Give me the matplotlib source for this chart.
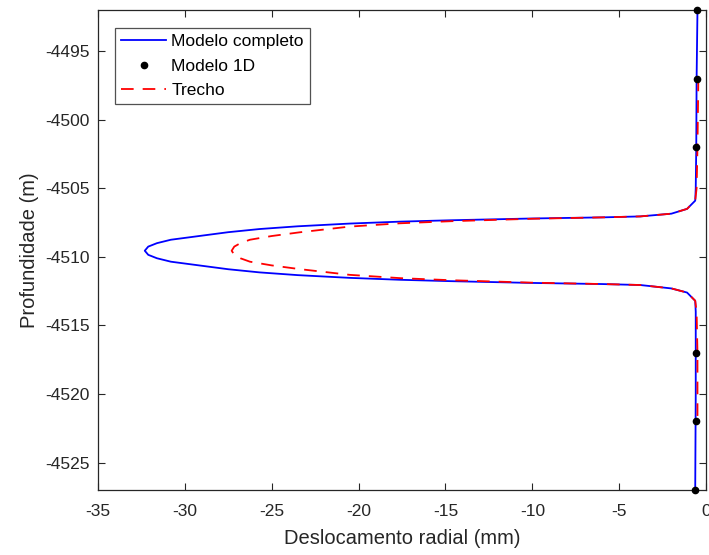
import matplotlib
matplotlib.use("Agg")
import matplotlib.pyplot as plt

# Modelo completo (x = deslocamento radial em mm, y = profundidade em m)
completo_x = [-0.5, -0.55, -0.57, -0.6, -0.63, -1.1, -2.0, -3.8, -6.0, -10.0,
              -14.7, -17.6, -20.5, -23.5, -25.7, -27.5, -29.3, -30.8, -31.6,
              -32.1, -32.3,
              -32.1, -31.6, -30.8, -29.3, -27.5, -25.7, -23.5, -20.5, -17.6,
              -14.7, -10.0, -6.0, -3.8, -2.0, -1.1, -0.63, -0.6, -0.6, -0.63]
completo_y = [-4492, -4497, -4502, -4505, -4505.9, -4506.5, -4506.85, -4507.05,
              -4507.12, -4507.2, -4507.33, -4507.43, -4507.57, -4507.77,
              -4507.97, -4508.2, -4508.5, -4508.75, -4509.0, -4509.25,
              -4509.55,
              -4509.85, -4510.1, -4510.35, -4510.6, -4510.9, -4511.13,
              -4511.33, -4511.53, -4511.67, -4511.77, -4511.9, -4511.98,
              -4512.05, -4512.3, -4512.6, -4513.2, -4514, -4520, -4527]

# Modelo 1D
m1d_x = [-0.52, -0.55, -0.57, -0.6, -0.6, -0.63]
m1d_y = [-4492, -4497, -4502, -4517, -4522, -4527]

# Trecho
trecho_x = [-0.45, -0.5, -0.55, -0.63, -1.1, -2.0, -3.8, -6.0, -10.0, -14.7,
            -17.6, -20.5, -23.4, -25.0, -26.25, -26.8, -27.15, -27.3,
            -27.15, -26.8, -26.25, -25.0, -23.4, -20.5, -17.6, -14.7, -10.0,
            -6.0, -3.8, -2.0, -1.1, -0.63, -0.55, -0.5, -0.5]
trecho_y = [-4497, -4502, -4505, -4505.9, -4506.5, -4506.85, -4507.05,
            -4507.12, -4507.22, -4507.4, -4507.55, -4507.79, -4508.21,
            -4508.48, -4508.75, -4509.0, -4509.25, -4509.55,
            -4509.85, -4510.1, -4510.35, -4510.62, -4510.89, -4511.31,
            -4511.55, -4511.7, -4511.88, -4511.98, -4512.05, -4512.3,
            -4512.6, -4513.2, -4514, -4517, -4522]

x_ticks = list(range(-35, 1, 5))
y_ticks = list(range(-4525, -4494, 5))

GRAY = "#262626"
plt.rcParams["font.family"] = ["Liberation Sans", "DejaVu Sans"]
plt.rcParams["axes.unicode_minus"] = False

fig = plt.figure(figsize=(7.09, 5.55), dpi=100)
ax = fig.add_axes([0.138, 0.117, 0.858, 0.865])

h_blue, = ax.plot(completo_x, completo_y, color=(0, 0, 1), lw=1.3,
                  label="Modelo completo", zorder=2)
h_red, = ax.plot(trecho_x, trecho_y, color=(1, 0, 0), lw=1.3,
                 ls=(0, (7, 5)), label="Trecho", zorder=3)
h_dot, = ax.plot(m1d_x, m1d_y, "o", color="black", ms=4.5, ls="none",
                 label="Modelo 1D", zorder=4, clip_on=False)

ax.set_xlim(-35, 0)
ax.set_ylim(-4527, -4492)
ax.set_xticks(x_ticks)
ax.set_yticks(y_ticks)
ax.tick_params(direction="in", length=5, width=0.8, colors=GRAY,
               labelsize=12.5, top=True, right=True, pad=6)
ax.tick_params(axis="x", pad=10)
for s in ax.spines.values():
    s.set_color(GRAY)
    s.set_linewidth(0.9)

ax.set_xlabel("Deslocamento radial (mm)", fontsize=14.5, color=GRAY,
              labelpad=7)
ax.set_ylabel("Profundidade (m)", fontsize=14.5, color=GRAY)

leg = ax.legend(handles=[h_blue, h_dot, h_red], loc="upper left",
                bbox_to_anchor=(0.028, 0.963), fontsize=12.5, frameon=True,
                fancybox=False, edgecolor=GRAY, handlelength=2.6,
                borderpad=0.35, labelspacing=0.55, handletextpad=0.3,
                borderaxespad=0)
leg.get_frame().set_linewidth(0.9)

fig.savefig("out.png", dpi=100)
